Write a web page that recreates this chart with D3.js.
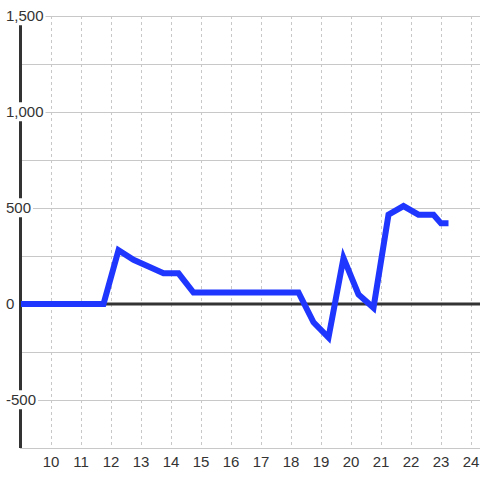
<!DOCTYPE html>
<html>
<head>
<meta charset="utf-8">
<script src="https://cdn.jsdelivr.net/npm/d3@7"></script>
<style>
  body { margin: 0; background: #fff; }
  svg { display: block; font-family: "Liberation Sans", Arial, sans-serif; }
</style>
</head>
<body>
<script>
// hours of the day and the value at each point of the line
var hours  = [9, 11.75, 12.25, 12.75, 13.25, 13.75, 14.25, 14.75, 18.25, 18.75, 19.25, 19.75, 20.25, 20.75, 21.25, 21.75, 22.25, 22.75, 23, 23.25];
var values = [0, 0, 280, 230, 195, 160, 160, 60, 60, -95, -175, 240, 50, -20, 465, 510, 465, 465, 420, 420];

var xTicks = [10, 11, 12, 13, 14, 15, 16, 17, 18, 19, 20, 21, 22, 23, 24];
var yLabels = [1500, 1000, 500, 0, -500];
var yGrid = [1500, 1250, 1000, 750, 500, 250, 0, -250, -500, -750];

var w = 480;
var h = 480;

var svg = d3.select("body").append("svg")
  .attr("width", w)
  .attr("height", h);

var x = d3.scaleLinear().domain([9, 24.3]).range([21, 480]);
var y = d3.scaleLinear().domain([-750, 1500]).range([448, 16]);

// horizontal grid
svg.selectAll("line.hgrid")
  .data(yGrid)
  .enter()
  .append("line")
  .attr("class", "hgrid")
  .attr("x1", 20).attr("x2", w)
  .attr("y1", function(d) { return y(d) + 0.5; })
  .attr("y2", function(d) { return y(d) + 0.5; })
  .attr("stroke", "#c8c8c8")
  .attr("stroke-width", 1);

// vertical dashed grid
svg.selectAll("line.vgrid")
  .data(xTicks)
  .enter()
  .append("line")
  .attr("class", "vgrid")
  .attr("x1", function(d) { return Math.round(x(d)) + 0.5; })
  .attr("x2", function(d) { return Math.round(x(d)) + 0.5; })
  .attr("y1", y(1500)).attr("y2", y(-750))
  .attr("stroke", "#c8c8c8")
  .attr("stroke-dasharray", "3,3");

// zero line
svg.append("line")
  .attr("x1", 19).attr("x2", w)
  .attr("y1", y(0)).attr("y2", y(0))
  .attr("stroke", "#333")
  .attr("stroke-width", 3);

// y axis line
svg.append("line")
  .attr("x1", 20.5).attr("x2", 20.5)
  .attr("y1", y(1500)).attr("y2", y(-750))
  .attr("stroke", "#333")
  .attr("stroke-width", 3);

// y labels with a white backing (plain hyphen for negatives)
var fmt = d3.format(",");
var lab = svg.selectAll("g.ylab")
  .data(yLabels)
  .enter()
  .append("g")
  .attr("class", "ylab")
  .attr("transform", function(d) { return "translate(6," + y(d) + ")"; });

lab.append("text")
  .text(function(d) { return fmt(d).replace("\u2212", "-"); })
  .attr("dy", "0.35em")
  .attr("font-size", 15)
  .attr("fill", "#333");

lab.insert("rect", "text")
  .each(function() {
    var b = this.parentNode.querySelector("text").getBBox();
    d3.select(this)
      .attr("x", b.x - 2).attr("y", b.y - 1)
      .attr("width", b.width + 4).attr("height", b.height + 2);
  })
  .attr("fill", "#fff");

// x labels
svg.selectAll("text.xlab")
  .data(xTicks)
  .enter()
  .append("text")
  .attr("class", "xlab")
  .text(function(d) { return d; })
  .attr("x", function(d) { return x(d); })
  .attr("y", 467)
  .attr("text-anchor", "middle")
  .attr("font-size", 15)
  .attr("fill", "#333");

// the series
var line = d3.line()
  .x(function(d, i) { return x(hours[i]); })
  .y(function(d) { return y(d); });

svg.append("path")
  .datum(values)
  .attr("d", line)
  .attr("fill", "none")
  .attr("stroke", "#1f36ff")
  .attr("stroke-width", 6)
  .attr("stroke-linejoin", "miter");
</script>
</body>
</html>
